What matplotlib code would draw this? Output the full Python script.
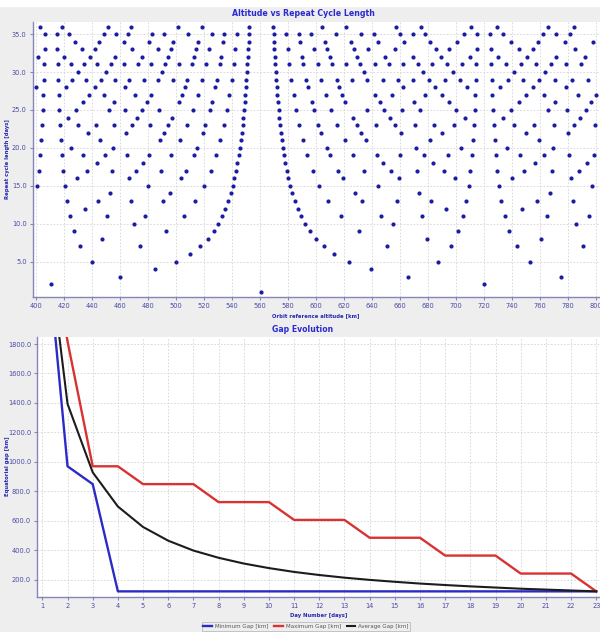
import numpy as np
import matplotlib
matplotlib.use("Agg")
import matplotlib.pyplot as plt
from matplotlib.patches import Rectangle

plt.rcParams['font.family'] = ['DejaVu Sans']

# --- top chart: repeat orbits (revolutions per repeat cycle) ---
repeat_days = list(range(1, 37))
orbits = [
    [15],
    [29, 31],
    [43, 44, 46],
    [59, 61],
    [72, 73, 74, 76, 77],
    [89, 91],
    [100, 101, 102, 103, 104, 106, 107, 108],
    [115, 117, 119, 121, 123],
    [130, 131, 133, 134, 136, 137, 139],
    [143, 147, 149, 151, 153],
    [157, 158, 159, 160, 161, 162, 163, 164, 166, 167, 168, 169, 170],
    [173, 175, 179, 181, 185],
    [186, 187, 188, 189, 190, 191, 192, 193, 194, 196, 197, 198, 199, 200, 201],
    [201, 205, 207, 209, 211, 213, 215],
    [214, 217, 218, 221, 223, 224, 226, 227, 229, 232, 233],
    [229, 231, 233, 235, 237, 239, 241, 243, 245, 247],
    [243, 244, 245, 246, 247, 248, 249, 250, 251, 252, 253, 254, 256, 257, 258,
     259, 260, 261, 262, 263, 264],
    [257, 259, 263, 265, 269, 271, 275, 277],
    [271, 272, 273, 274, 275, 276, 277, 278, 279, 280, 281, 282, 283, 284, 286,
     287, 288, 289, 290, 291, 292, 293, 294, 295],
    [287, 289, 291, 293, 297, 299, 301, 303, 307, 309],
    [302, 304, 305, 307, 310, 311, 313, 314, 316, 317, 319, 320, 323, 325, 326],
    [315, 317, 321, 323, 325, 327, 329, 331, 333, 335, 337, 339],
    [328, 329, 330, 331, 332, 333, 334, 335, 336, 337, 338, 339, 340, 341, 342,
     343, 344, 346, 347, 348, 349, 350, 351, 352, 353, 354, 355, 356, 357],
    [343, 347, 349, 353, 355, 359, 361, 365, 367, 371],
    [357, 358, 359, 361, 362, 363, 364, 366, 367, 368, 369, 371, 372, 373, 374,
     376, 377, 378, 379, 381, 382, 383, 384, 386, 387, 388],
    [371, 373, 375, 379, 381, 383, 385, 387, 389, 391, 393, 395, 397, 399, 401],
    [385, 386, 388, 389, 391, 392, 394, 395, 397, 398, 400, 401, 403, 404, 406,
     407, 409, 410, 412, 413, 415, 416, 418, 419],
    [401, 403, 405, 407, 409, 411, 415, 417, 419, 421, 423, 425, 429, 431, 433, 435],
    [414, 415, 416, 417, 418, 419, 420, 421, 422, 423, 424, 425, 426, 427, 428,
     429, 430, 431, 432, 433, 434, 436, 437, 438, 439, 440, 441, 442, 443, 444,
     445, 446, 447, 448, 449, 450],
    [431, 433, 437, 439, 443, 449, 451, 457, 461, 463],
    [443, 444, 445, 446, 447, 448, 449, 450, 451, 452, 453, 454, 455, 456, 457,
     458, 459, 460, 461, 462, 463, 464, 466, 467, 468, 469, 470, 471, 472, 473,
     474, 475, 476, 477, 478, 479, 480, 481],
    [457, 459, 461, 463, 465, 467, 469, 471, 473, 475, 477, 479, 481, 483, 485,
     487, 489, 491, 493, 495, 497],
    [472, 475, 476, 478, 479, 481, 482, 485, 487, 488, 490, 491, 493, 494, 496,
     497, 499, 500, 502, 503, 505, 508, 509, 511, 512],
    [485, 487, 489, 491, 495, 497, 499, 501, 503, 505, 507, 509, 511, 513, 515,
     517, 519, 521, 523, 525],
    [501, 502, 503, 506, 507, 508, 509, 512, 513, 514, 516, 517, 519, 521, 522,
     523, 524, 526, 527, 528, 529, 531, 533, 534, 536, 537, 538, 541, 542, 543],
    [515, 517, 521, 523, 527, 529, 533, 535, 539, 541, 545, 547, 551, 553, 557, 559],
]

# --- bottom chart: gap evolution ---
day_number = list(range(1, 24))
min_gap = [2788, 970, 849, 121, 121, 121, 121, 121, 121, 121, 121, 121, 121,
           121, 121, 121, 121, 121, 121, 121, 121, 121, 121]
max_gap = [2788, 1818, 970, 970, 849, 849, 849, 727, 727, 727, 606, 606, 606,
           485, 485, 485, 364, 364, 364, 242, 242, 242, 121]
avg_gap = [2788, 1394, 929, 697, 558, 465, 398, 349, 310, 279, 253, 232, 214,
           199, 186, 174, 164, 155, 147, 139, 133, 127, 121]


# sun-synchronous orbit: revolutions per cycle -> reference altitude (km)
MU = 398600.4418
RE = 6378.137
J2 = 1.08263e-3
SUN_RATE = 2 * np.pi / (365.2422 * 86400)


def altitude(revs, days):
    t_nodal = days * 86400.0 / revs
    a = (MU * (t_nodal / (2 * np.pi)) ** 2) ** (1 / 3)
    for _ in range(30):
        n = np.sqrt(MU / a ** 3)
        k = 0.75 * J2 * (RE / a) ** 2
        cos_i = -SUN_RATE / (2 * k * n)
        n_need = (2 * np.pi / t_nodal) / (1 + k * (8 * cos_i ** 2 - 2))
        a = (MU / n_need ** 2) ** (1 / 3)
    return a - RE


bg = '#eeeeee'
dot_col = '#1c1ca2'
tick_col = '#4a4aa8'
lab_col = '#2626b0'
spine_col = '#8585b8'
grid_kw = dict(color='#d4d4d4', linestyle=(0, (2, 2)), linewidth=0.6)

fig = plt.figure(figsize=(6, 6.32), dpi=100, facecolor=bg)
fig.add_artist(Rectangle((0, 1 - 6 / 632), 1, 6 / 632, color='white',
                         transform=fig.transFigure, zorder=0))


def style(ax):
    for s in ['top', 'right']:
        ax.spines[s].set_visible(False)
    for s in ['left', 'bottom']:
        ax.spines[s].set_color(spine_col)
        ax.spines[s].set_linewidth(1.0)
    ax.tick_params(labelsize=4.8, colors=spine_col, labelcolor=tick_col,
                   length=2.5, width=0.8, pad=2)
    ax.grid(True, **grid_kw)
    ax.set_axisbelow(True)


# top: altitude vs repeat cycle length
ax1 = fig.add_axes([0.055, 0.5305, 0.945, 0.4351])
for d, revs in zip(repeat_days, orbits):
    alts = [altitude(r, d) for r in revs]
    ax1.scatter(alts, [d] * len(alts), s=9, color=dot_col, linewidths=0,
                zorder=3, clip_on=False)
ax1.set_xlim(397.8, 803)
ax1.set_ylim(0.37, 36.63)
ax1.set_xticks(np.arange(400, 801, 20))
ax1.set_yticks([5, 10, 15, 20, 25, 30, 35])
ax1.set_yticklabels([f"{v:.1f}" for v in [5, 10, 15, 20, 25, 30, 35]])
style(ax1)

# bottom: gap evolution
ax2 = fig.add_axes([0.0622, 0.0559, 0.9378, 0.4114])
l1, = ax2.plot(day_number, min_gap, color='#2b2bc6', lw=1.7, label='Minimum Gap [km]')
l2, = ax2.plot(day_number, max_gap, color='#d83232', lw=1.7, label='Maximum Gap [km]')
l3, = ax2.plot(day_number, avg_gap, color='#1c1c1c', lw=1.5, label='Average Gap [km]')
ax2.set_xlim(0.8, 23.15)
ax2.set_ylim(85, 1850)
ax2.set_xticks(day_number)
ax2.set_yticks(np.arange(200, 1801, 200))
ax2.set_yticklabels([f"{v:.1f}" for v in np.arange(200, 1801, 200)])
style(ax2)

# titles and axis labels
fig.text(0.505, 0.978, 'Altitude vs Repeat Cycle Length', ha='center', va='center',
         fontsize=5.7, fontweight='bold', color='#2a2ad0')
fig.text(0.505, 0.4794, 'Gap Evolution', ha='center', va='center',
         fontsize=5.6, fontweight='bold', color='#2a2ad0')
fig.text(0.527, 0.5005, 'Orbit reference altitude [km]', ha='center', va='center',
         fontsize=3.8, fontweight='bold', color=lab_col)
fig.text(0.531, 0.0261, 'Day Number [days]', ha='center', va='center',
         fontsize=3.8, fontweight='bold', color=lab_col)
fig.text(0.013, 0.748, 'Repeat cycle length [days]', ha='center', va='center',
         rotation=90, fontsize=3.8, fontweight='bold', color=lab_col)
fig.text(0.012, 0.262, 'Equatorial gap [km]', ha='center', va='center',
         rotation=90, fontsize=3.8, fontweight='bold', color=lab_col)

leg = fig.legend(handles=[l1, l2, l3], loc='center', bbox_to_anchor=(0.51, 0.0085),
                 ncol=3, fontsize=4, frameon=True, fancybox=False,
                 edgecolor='#b0b0b0', facecolor=bg, handlelength=1.6,
                 columnspacing=1.0, handletextpad=0.5, borderpad=0.3)
leg.get_frame().set_linewidth(0.6)
for t in leg.get_texts():
    t.set_color('#555555')

fig.savefig('out.png', dpi=100, facecolor=bg)
